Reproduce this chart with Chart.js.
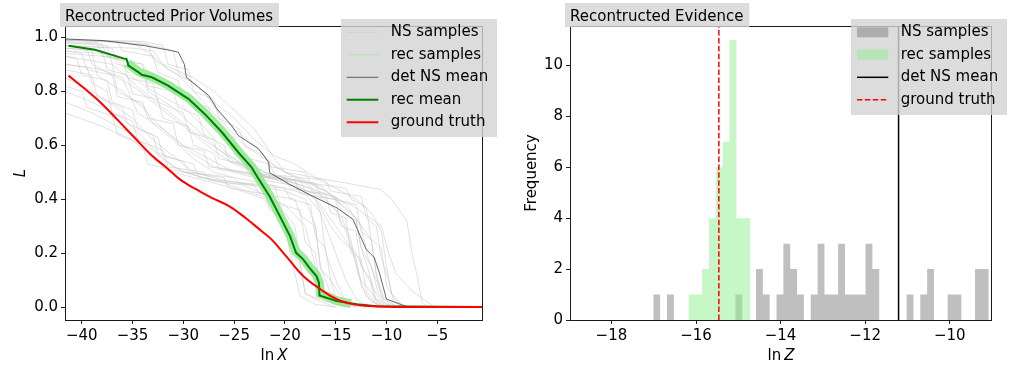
<!DOCTYPE html>
<html>
<head>
<meta charset="utf-8">
<script src="https://cdn.jsdelivr.net/npm/chart.js@4.4.1/dist/chart.umd.min.js"></script>
<style>
  html, body { margin: 0; padding: 0; background: #fff; }
  #wrap { position: relative; width: 1016px; height: 367px; }
  canvas { position: absolute; top: 0; }
  #prior { left: 0; }
  #evidence { left: 508px; }
</style>
</head>
<body>
<div id="wrap">
  <canvas id="prior" width="508" height="367"></canvas>
  <canvas id="evidence" width="508" height="367"></canvas>
</div>
<script>
const FF = '"DejaVu Sans", sans-serif';
Chart.defaults.font.family = FF;
Chart.defaults.font.size = 15;
Chart.defaults.color = '#000';

// ---- left panel: reconstructed prior volumes (ln X vs L) ----
const priorTicksX = [-40, -35, -30, -25, -20, -15, -10, -5];
const priorTicksY = [0, 0.2, 0.4, 0.6, 0.8, 1.0];

// NS sample curves as [lnX, L]
const nsSamples = [
  [[-41.65,0.99],[-37,0.985],[-33,0.97],[-31,0.95],[-30.5,0.87],[-28,0.8],[-26.5,0.72],[-25,0.66],[-23,0.6],[-21,0.52],[-19,0.48],[-16,0.43],[-14.5,0.38],[-13,0.33],[-12.5,0.22],[-11.5,0.15],[-10.8,0.05],[-10,0.01],[-8,0]],
  [[-41.65,0.98],[-38,0.975],[-37.5,0.93],[-34,0.9],[-33,0.84],[-30,0.78],[-28,0.7],[-26,0.62],[-24,0.55],[-22,0.5],[-20,0.47],[-17.5,0.44],[-16.5,0.38],[-15,0.3],[-13.5,0.22],[-12.5,0.1],[-11,0.03],[-9.5,0]],
  [[-41.65,0.96],[-39,0.95],[-38.5,0.86],[-36,0.8],[-34,0.74],[-32,0.66],[-30,0.6],[-27,0.54],[-25,0.5],[-22,0.47],[-19,0.45],[-17,0.4],[-16,0.3],[-15,0.2],[-14,0.1],[-13,0.03],[-11.5,0]],
  [[-41.65,0.93],[-37,0.9],[-36.5,0.8],[-34,0.75],[-33,0.68],[-31,0.62],[-29,0.55],[-27,0.5],[-25,0.48],[-21,0.45],[-18,0.42],[-16.5,0.35],[-16,0.2],[-15,0.1],[-14,0.02],[-12,0]],
  [[-41.65,0.85],[-39,0.8],[-37,0.75],[-35,0.7],[-33,0.62],[-31,0.56],[-29,0.5],[-26,0.47],[-23,0.45],[-20,0.43],[-18,0.4],[-17,0.3],[-16.5,0.15],[-15.5,0.05],[-14,0.01],[-12,0]],
  [[-41.65,0.8],[-39,0.76],[-36,0.7],[-34,0.63],[-32,0.55],[-30,0.5],[-27,0.47],[-24,0.45],[-21,0.4],[-19,0.3],[-18.5,0.15],[-18,0.05],[-16,0.02],[-14,0]],
  [[-41.65,0.72],[-38,0.67],[-35,0.62],[-33,0.55],[-31,0.5],[-28,0.47],[-25,0.44],[-22,0.4],[-20,0.3],[-19,0.12],[-18.5,0.04],[-17,0.01],[-15,0]],
  [[-41.65,0.99],[-36,0.98],[-34.5,0.97],[-33,0.93],[-31.5,0.88],[-29,0.83],[-27,0.76],[-25,0.7],[-23,0.62],[-21,0.56],[-19,0.53],[-17,0.48],[-15,0.44],[-13,0.4],[-11.5,0.35],[-10.5,0.28],[-10,0.15],[-9.5,0.05],[-8.5,0.01],[-7.5,0]],
  [[-41.65,0.97],[-35,0.96],[-33,0.95],[-32,0.9],[-29,0.85],[-27,0.8],[-25,0.73],[-23,0.66],[-21,0.55],[-20,0.5],[-17,0.48],[-14,0.46],[-10.6,0.436],[-9.5,0.4],[-8,0.32],[-7.5,0.2],[-7,0.12],[-6.5,0.02],[-6,0]],
  [[-41.65,0.95],[-38,0.94],[-36.5,0.92],[-35,0.85],[-33,0.8],[-30,0.74],[-28,0.67],[-26,0.58],[-24,0.52],[-22,0.48],[-19,0.46],[-16,0.42],[-13.5,0.38],[-12,0.34],[-10.5,0.3],[-9.8,0.2],[-9,0.12],[-7.5,0.06],[-6,0.02],[-5.3,0]],
  [[-41.65,0.97],[-39.5,0.96],[-39,0.9],[-37,0.86],[-35,0.82],[-33,0.76],[-31,0.7],[-29,0.64],[-27,0.58],[-25,0.53],[-23,0.5],[-20,0.48],[-18,0.46],[-16,0.4],[-14.5,0.34],[-13.5,0.25],[-12.8,0.12],[-12,0.04],[-10.5,0]],
  [[-41.65,0.9],[-38,0.88],[-36,0.85],[-34.5,0.72],[-32,0.66],[-29.5,0.58],[-27,0.52],[-24,0.5],[-21,0.48],[-19,0.46],[-17,0.4],[-15.5,0.3],[-14.5,0.25],[-13,0.2],[-12,0.12],[-11,0.05],[-10,0]],
  [[-41.65,0.99],[-35,0.985],[-33.5,0.975],[-33,0.92],[-30.5,0.86],[-28.5,0.78],[-26,0.68],[-24,0.6],[-22,0.55],[-20,0.5],[-18,0.47],[-15.5,0.42],[-14,0.38],[-12.5,0.3],[-11.8,0.18],[-11,0.1],[-10.3,0.03],[-9,0]],
  [[-41.65,0.76],[-39,0.72],[-37,0.68],[-35,0.64],[-33,0.58],[-31,0.52],[-29,0.49],[-26,0.46],[-23,0.42],[-20,0.38],[-18,0.3],[-17,0.15],[-16,0.05],[-14,0.01],[-12,0]],
  [[-41.65,0.98],[-37.5,0.97],[-37,0.9],[-35.5,0.85],[-34,0.8],[-32,0.74],[-30,0.68],[-28,0.62],[-26,0.57],[-24,0.53],[-22,0.5],[-19,0.47],[-16.5,0.45],[-15,0.4],[-13,0.33],[-11.5,0.25],[-11,0.12],[-10.3,0.04],[-9,0]],
  [[-41.65,0.94],[-38,0.93],[-34,0.9],[-33.5,0.8],[-31,0.74],[-29,0.67],[-27,0.6],[-25,0.54],[-23,0.5],[-20,0.46],[-17,0.42],[-15,0.36],[-14,0.28],[-13,0.18],[-12.5,0.08],[-11.5,0.02],[-10,0]],
  [[-41.65,0.985],[-38.5,0.98],[-38,0.93],[-36,0.92],[-35.5,0.85],[-33,0.83],[-32.5,0.76],[-30,0.72],[-29.5,0.65],[-27,0.62],[-26.5,0.55],[-24,0.53],[-23.5,0.49],[-19,0.47],[-18.5,0.42],[-15,0.4],[-14.5,0.3],[-13,0.28],[-12.5,0.15],[-11.5,0.1],[-11,0.02],[-10,0]],
  [[-41.65,0.95],[-40,0.94],[-39.5,0.88],[-37,0.86],[-36.5,0.78],[-34,0.76],[-33.5,0.7],[-31,0.68],[-30.5,0.6],[-28,0.58],[-27.5,0.52],[-24,0.5],[-20,0.48],[-19.5,0.44],[-16,0.42],[-15.5,0.35],[-14,0.33],[-13.5,0.2],[-12.5,0.18],[-12,0.06],[-11,0.01],[-10,0]],
  [[-41.65,0.88],[-39,0.86],[-38.5,0.78],[-36,0.74],[-35.5,0.68],[-33,0.64],[-32.5,0.57],[-30,0.54],[-29.5,0.5],[-25,0.48],[-24.5,0.46],[-20,0.44],[-19.5,0.4],[-17.5,0.38],[-17,0.26],[-16,0.22],[-15.5,0.1],[-14.5,0.04],[-13,0]],
  [[-41.65,0.99],[-34,0.985],[-32,0.97],[-31.5,0.9],[-29.5,0.88],[-29,0.8],[-27,0.77],[-26.5,0.7],[-24.5,0.66],[-24,0.6],[-22,0.56],[-21.5,0.52],[-18,0.5],[-17.5,0.46],[-14,0.44],[-13.5,0.4],[-12,0.37],[-11.5,0.25],[-10.5,0.22],[-10,0.08],[-9,0.02],[-8,0]],
  [[-41.65,0.93],[-40.5,0.92],[-40,0.86],[-37.5,0.84],[-37,0.76],[-35,0.73],[-34.5,0.66],[-32.5,0.63],[-32,0.56],[-29,0.53],[-28.5,0.48],[-24,0.46],[-21,0.45],[-20.5,0.38],[-18.5,0.36],[-18,0.24],[-17,0.2],[-16.5,0.06],[-15,0.01],[-13,0]],
  [[-41.65,0.97],[-37,0.96],[-36.5,0.9],[-34,0.88],[-33.5,0.82],[-31,0.8],[-30.5,0.74],[-28.5,0.71],[-28,0.64],[-26,0.6],[-25.5,0.54],[-22.5,0.51],[-22,0.48],[-17,0.46],[-16.5,0.41],[-13,0.38],[-12.5,0.28],[-11.5,0.25],[-11,0.12],[-10.5,0.04],[-9.5,0]],
  [[-41.65,0.82],[-40,0.8],[-39.5,0.74],[-37,0.71],[-36.5,0.64],[-34,0.6],[-33.5,0.53],[-30,0.5],[-26,0.48],[-25.5,0.44],[-22,0.42],[-21.5,0.36],[-20,0.33],[-19.5,0.2],[-18.5,0.16],[-18,0.05],[-16.5,0.02],[-15,0]],
  [[-41.65,0.99],[-36.5,0.985],[-36,0.95],[-33,0.93],[-32.5,0.87],[-30.5,0.84],[-30,0.77],[-27.5,0.74],[-27,0.66],[-25,0.63],[-24.5,0.56],[-21.5,0.53],[-21,0.49],[-16,0.47],[-15.5,0.43],[-12.5,0.41],[-12,0.33],[-11,0.3],[-10.5,0.18],[-9.8,0.1],[-9.3,0.02],[-8.5,0]],
  [[-41.65,0.9],[-39.5,0.89],[-39,0.83],[-37.5,0.8],[-37,0.72],[-35,0.69],[-34.5,0.62],[-32,0.58],[-31.5,0.52],[-28,0.5],[-27.5,0.47],[-23,0.45],[-22.5,0.42],[-19,0.4],[-18.5,0.34],[-17,0.3],[-16.5,0.14],[-15.5,0.1],[-15,0.03],[-13.5,0]],
  [[-41.65,0.96],[-38,0.95],[-37.5,0.88],[-35.5,0.86],[-35,0.79],[-32.5,0.77],[-32,0.7],[-29.5,0.67],[-29,0.6],[-27,0.57],[-26.5,0.51],[-23,0.49],[-18.5,0.47],[-18,0.43],[-15,0.41],[-14.5,0.36],[-13,0.32],[-12.5,0.22],[-11.8,0.14],[-11.2,0.03],[-10,0]]
];

// band of reconstructed samples (centre of the light green band)
const recBand = [[-35.5,0.905],[-34.4,0.872],[-33.1,0.853],[-31.5,0.823],[-29.5,0.775],[-27.9,0.72],[-26.2,0.652],[-24.6,0.578],[-23.3,0.522],[-22.8,0.492],[-21.5,0.413],[-20.5,0.34],[-19.5,0.266],[-18.9,0.205],[-18.2,0.18],[-17.6,0.149],[-16.9,0.118],[-16.6,0.09],[-16.5,0.05],[-14.9,0.024],[-13.5,0.013]];

const detMeanX = [-41.65, -37.9, -33.8, -31.2, -30.5, -29.9, -29.7, -28.5, -27.5, -26.7, -25.25, -24.6, -22.6, -21.6, -21.5, -19.5, -17.6, -14.9, -13.3, -12.0, -11.2, -10.7, -10.0, -9.0, -8.4, -7.8];
const detMeanL = [0.994, 0.988, 0.969, 0.951, 0.945, 0.9, 0.852, 0.815, 0.784, 0.735, 0.673, 0.636, 0.587, 0.537, 0.498, 0.454, 0.417, 0.368, 0.325, 0.214, 0.183, 0.127, 0.029, 0.016, 0.006, 0.0];

const recMeanX = [-41.3, -38.7, -35.9, -35.6, -35.4, -34.4, -34.1, -33.1, -31.5, -29.5, -27.9, -26.2, -24.6, -23.3, -22.8, -21.5, -20.5, -19.5, -18.9, -18.2, -17.6, -16.9, -16.65, -16.6, -14.9, -12.9, -11, -0.5];
const recMeanL = [0.969, 0.954, 0.922, 0.92, 0.895, 0.87, 0.861, 0.852, 0.821, 0.772, 0.716, 0.648, 0.574, 0.519, 0.488, 0.41, 0.337, 0.263, 0.201, 0.177, 0.146, 0.115, 0.09, 0.043, 0.022, 0.01, 0.003, 0];

const truthX = [-41.3, -39.7, -38.0, -36.4, -34.7, -33.1, -31.6, -30.5, -29.6, -28.8, -27.2, -25.5, -23.9, -22.25, -21.3, -19.8, -18.2, -16.5, -14.9, -13.2, -11.6, -10, -8, -0.5];
const truthL = [0.858, 0.809, 0.753, 0.691, 0.624, 0.562, 0.515, 0.478, 0.455, 0.438, 0.405, 0.374, 0.331, 0.28, 0.25, 0.185, 0.115, 0.066, 0.029, 0.010, 0.004, 0.001, 0.0, 0.0];

// ---- right panel: reconstructed evidence histogram ----
const evidenceTicksX = [-18, -16, -14, -12, -10];
const evidenceTicksY = [0, 2, 4, 6, 8, 10];
const nsBinStart = -17.01, nsBinWidth = 0.1619;
const nsCounts = [1,0,1,0,0,0,0,0,0,0,0,0,1,0,0,2,1,0,1,3,2,1,0,1,3,1,1,3,1,1,1,3,2,0,0,0,0,1,0,1,2,0,0,1,1,0,0,2,2];
const recBinStart = -16.18, recBinWidth = 0.1622;
const recCounts = [1,1,2,4,6,7,11,4,4];
const detNsLnZ = -11.21;
const truthLnZ = -15.46;

const minus = v => (v < 0 ? '\u2212' + Math.abs(v) : String(v));
const xy = (xs, ys) => xs.map((x, i) => ({x, y: ys[i]}));
const fromPairs = list => list.map(([x, y]) => ({x, y}));

function histSteps(start, width, counts) {
  const pts = counts.map((c, i) => ({x: start + i * width, y: c}));
  pts.push({x: start + counts.length * width, y: 0});
  return pts;
}

function axis(min, max, ticks, fmt, size, isX) {
  return {
    type: 'linear', min, max,
    afterBuildTicks: s => { s.ticks = ticks.map(value => ({value})); },
    afterFit: s => {
      if (isX) { s.height = size; s.paddingLeft = 0; s.paddingRight = 0; }
      else { s.width = size; s.paddingTop = 0; s.paddingBottom = 0; }
    },
    ticks: {callback: fmt, padding: 3, maxRotation: 0, autoSkip: false, color: '#000', font: {size: 15}},
    grid: {drawOnChartArea: false, tickLength: 4, color: '#222', lineWidth: 1},
    border: {display: false}
  };
}

// frame, boxed title, legend and mixed-style axis titles
const decor = {
  id: 'decor',
  afterDraw(chart, args, o) {
    const ctx = chart.ctx, a = chart.chartArea;
    ctx.save();
    ctx.strokeStyle = '#1a1a1a';
    ctx.lineWidth = 1;
    ctx.strokeRect(a.left + 0.5, a.top + 0.5, a.right - a.left - 1, a.bottom - a.top);

    ctx.font = `15px ${FF}`;
    ctx.textAlign = 'left';
    const tw = ctx.measureText(o.title).width;
    ctx.fillStyle = 'rgba(211,211,211,0.8)';
    ctx.fillRect(o.titleX - 5, 3, tw + 11, 24);
    ctx.fillStyle = '#000';
    ctx.textBaseline = 'alphabetic';
    ctx.fillText(o.title, o.titleX, 20.5);

    const L = o.legend;
    ctx.fillStyle = 'rgba(211,211,211,0.8)';
    ctx.fillRect(L.x, L.y, L.w, L.h);
    L.items.forEach((it, i) => {
      const cy = L.row0 + i * L.step;
      if (it.patch) {
        ctx.fillStyle = it.color;
        ctx.fillRect(L.hx0, cy - 5, L.hx1 - L.hx0, 10);
      } else {
        ctx.beginPath();
        ctx.setLineDash(it.dash || []);
        ctx.strokeStyle = it.color;
        ctx.lineWidth = it.width;
        ctx.moveTo(L.hx0, cy);
        ctx.lineTo(L.hx1, cy);
        ctx.stroke();
        ctx.setLineDash([]);
      }
      ctx.fillStyle = '#000';
      ctx.font = `15px ${FF}`;
      ctx.textBaseline = 'middle';
      ctx.fillText(it.label, L.tx, cy);
    });

    // x title: upright "ln" + italic variable
    ctx.textBaseline = 'alphabetic';
    ctx.font = `15px ${FF}`;
    const w1 = ctx.measureText('ln').width;
    ctx.font = `italic 15px ${FF}`;
    const w2 = ctx.measureText(o.xVar).width;
    const gap = 3;
    const x0 = (a.left + a.right) / 2 - (w1 + gap + w2) / 2;
    ctx.font = `15px ${FF}`;
    ctx.fillText('ln', x0, 360);
    ctx.font = `italic 15px ${FF}`;
    ctx.fillText(o.xVar, x0 + w1 + gap, 360);

    // y title, rotated
    ctx.translate(o.yTitleX, (a.top + a.bottom) / 2);
    ctx.rotate(-Math.PI / 2);
    ctx.textAlign = 'center';
    ctx.font = (o.yItalic ? 'italic ' : '') + `15px ${FF}`;
    ctx.fillText(o.yTitle, 0, 0);
    ctx.restore();
  }
};

const grayLines = nsSamples.map(s => ({
  label: 'NS samples', data: fromPairs(s),
  borderColor: 'rgba(195,195,195,0.5)', borderWidth: 1
}));

new Chart(document.getElementById('prior'), {
  type: 'line',
  data: {
    datasets: [
      {label: 'ground truth', data: xy(truthX, truthL), borderColor: '#ff0000', borderWidth: 2, tension: 0.4},
      {label: 'rec mean', data: xy(recMeanX, recMeanL), borderColor: '#008000', borderWidth: 2},
      {label: 'det NS mean', data: xy(detMeanX, detMeanL), borderColor: 'rgba(40,40,40,0.7)', borderWidth: 1},
      {label: 'rec samples', data: fromPairs(recBand), borderColor: 'rgba(144,230,144,0.85)', borderWidth: 9, borderCapStyle: 'butt'},
      ...grayLines
    ]
  },
  options: {
    responsive: false, animation: false, devicePixelRatio: 1,
    layout: {padding: {left: 0, right: 25, top: 26, bottom: 0}},
    elements: {point: {radius: 0}, line: {tension: 0}},
    plugins: {
      legend: {display: false}, tooltip: {enabled: false},
      decor: {
        title: 'Recontructed Prior Volumes', titleX: 65,
        xVar: 'X', yTitle: 'L', yItalic: true, yTitleX: 25,
        legend: {
          x: 341, y: 19, w: 156, h: 118, row0: 32.3, step: 22.5, hx0: 346.7, hx1: 378.3, tx: 390.7,
          items: [
            {label: 'NS samples', color: 'rgba(200,200,200,0.6)', width: 1},
            {label: 'rec samples', color: 'rgba(144,238,144,0.6)', width: 1},
            {label: 'det NS mean', color: 'rgba(40,40,40,0.7)', width: 1},
            {label: 'rec mean', color: '#008000', width: 2},
            {label: 'ground truth', color: '#ff0000', width: 2}
          ]
        }
      }
    },
    scales: {
      x: axis(-41.65, -0.5, priorTicksX, v => minus(v), 47, true),
      y: axis(-0.048, 1.042, priorTicksY, v => v.toFixed(1), 65, false)
    }
  },
  plugins: [decor]
});

new Chart(document.getElementById('evidence'), {
  type: 'line',
  data: {
    datasets: [
      {label: 'ground truth', data: [{x: truthLnZ, y: 0}, {x: truthLnZ, y: 11.55}], borderColor: '#ff0000', borderWidth: 1.5, borderDash: [5.5, 2.4]},
      {label: 'det NS mean', data: [{x: detNsLnZ, y: 0}, {x: detNsLnZ, y: 11.55}], borderColor: '#000', borderWidth: 1.5},
      {label: 'rec samples', data: histSteps(recBinStart, recBinWidth, recCounts), stepped: true, fill: 'origin',
        backgroundColor: 'rgba(144,238,144,0.5)', borderColor: 'rgba(0,0,0,0)', borderWidth: 0},
      {label: 'NS samples', data: histSteps(nsBinStart, nsBinWidth, nsCounts), stepped: true, fill: 'origin',
        backgroundColor: 'rgba(128,128,128,0.5)', borderColor: 'rgba(0,0,0,0)', borderWidth: 0}
    ]
  },
  options: {
    responsive: false, animation: false, devicePixelRatio: 1,
    layout: {padding: {left: 0, right: 24, top: 26, bottom: 0}},
    elements: {point: {radius: 0}, line: {tension: 0}},
    plugins: {
      legend: {display: false}, tooltip: {enabled: false},
      decor: {
        title: 'Recontructed Evidence', titleX: 62,
        xVar: 'Z', yTitle: 'Frequency', yItalic: false, yTitleX: 28,
        legend: {
          x: 343, y: 19, w: 156, h: 96, row0: 32.3, step: 22.5, hx0: 349, hx1: 380.3, tx: 392.7,
          items: [
            {label: 'NS samples', patch: true, color: 'rgba(128,128,128,0.5)'},
            {label: 'rec samples', patch: true, color: 'rgba(144,238,144,0.5)'},
            {label: 'det NS mean', color: '#000', width: 1.5},
            {label: 'ground truth', color: '#ff0000', width: 1.5, dash: [5.5, 2.4]}
          ]
        }
      }
    },
    scales: {
      x: axis(-18.98, -9.0, evidenceTicksX, v => minus(v), 47, true),
      y: axis(0, 11.55, evidenceTicksY, v => String(v), 62, false)
    }
  },
  plugins: [decor]
});
</script>
</body>
</html>
